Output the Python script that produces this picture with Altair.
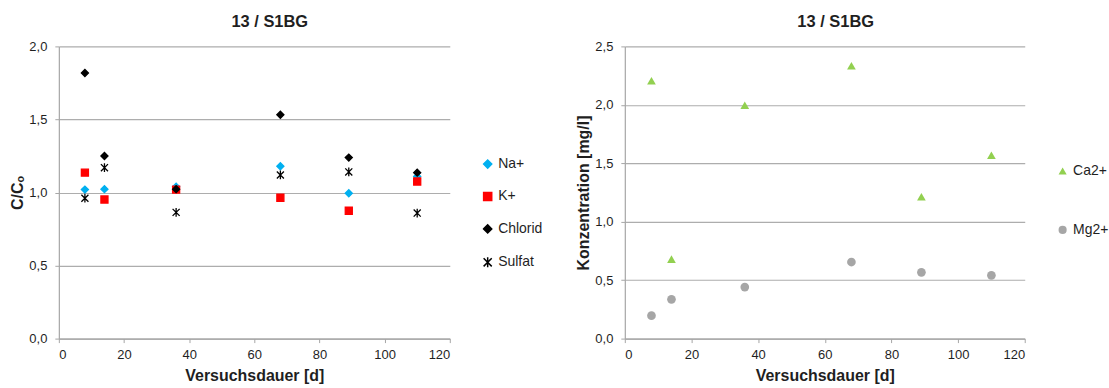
import altair as alt
import pandas as pd

FONT = "Liberation Sans"
TEXT = "#1F1F1F"

# sampling days
days = [8, 14, 36, 68, 89, 110]

# left panel: relative concentration C/Co
na = [1.02, 1.023, 1.04, 1.18, 0.995, 1.11]
k = [1.136, 0.952, 1.02, 0.964, 0.875, 1.075]
chlorid = [1.818, 1.25, 1.023, 1.532, 1.239, 1.136]
sulfat = [0.961, 1.17, 0.864, 1.12, 1.141, 0.859]
left_series = ["Na+", "K+", "Chlorid", "Sulfat"]
left_colors = ["#00B0F0", "#FF0000", "#000000", "#000000"]
star = "M-1,-1L1,1M-1,1L1,-1M0,-1.25L0,1.25"
left_shapes = ["diamond", "square", "diamond", star]

# right panel: concentration in mg/l
ca = [2.207, 0.68, 1.996, 2.335, 1.213, 1.569]
mg = [0.196, 0.336, 0.441, 0.655, 0.567, 0.541]
right_series = ["Ca2+", "Mg2+"]
right_colors = ["#92D050", "#A6A6A6"]
right_shapes = ["triangle-up", "circle"]

x_ticks = [0, 20, 40, 60, 80, 100, 120]

left_df = pd.concat(
    [pd.DataFrame({"d": days, "v": vals, "s": name})
     for name, vals in zip(left_series, [na, k, chlorid, sulfat])],
    ignore_index=True,
)
right_df = pd.concat(
    [pd.DataFrame({"d": days, "v": vals, "s": name})
     for name, vals in zip(right_series, [ca, mg])],
    ignore_index=True,
)

comma = "replace(format(datum.value, '.1f'), '.', ',')"


def x_axis():
    return alt.X(
        "d:Q",
        title="Versuchsdauer [d]",
        scale=alt.Scale(domain=[0, 120], nice=False, zero=True),
        axis=alt.Axis(values=x_ticks, grid=False, tickSize=4, labelPadding=6,
                      titlePadding=6),
    )


def left_legend():
    return alt.Legend(title=None, orient="none", legendX=423, legendY=111,
                      rowPadding=16.5)


def right_legend():
    return alt.Legend(title=None, orient="none", legendX=432, legendY=118,
                      rowPadding=45)


left = (
    alt.Chart(left_df)
    .mark_point(filled=True, opacity=1, strokeWidth=1.3)
    .encode(
        x=x_axis(),
        y=alt.Y(
            "v:Q",
            title="C/Cₒ",
            scale=alt.Scale(domain=[0, 2.0], nice=False),
            axis=alt.Axis(values=[0, 0.5, 1.0, 1.5, 2.0], labelExpr=comma,
                          tickSize=4, labelPadding=8, titlePadding=3),
        ),
        fill=alt.Fill("s:N", scale=alt.Scale(domain=left_series, range=left_colors),
                      legend=left_legend()),
        stroke=alt.Stroke("s:N", scale=alt.Scale(domain=left_series, range=left_colors),
                          legend=left_legend()),
        shape=alt.Shape("s:N", scale=alt.Scale(domain=left_series, range=left_shapes),
                        legend=left_legend()),
        size=alt.value(50),
    )
    .properties(width=392, height=293,
                title=alt.TitleParams("13 / S1BG", dx=15.5, offset=9.5))
)

right = (
    alt.Chart(right_df)
    .mark_point(filled=True, opacity=1)
    .encode(
        x=x_axis(),
        y=alt.Y(
            "v:Q",
            title="Konzentration [mg/l]",
            scale=alt.Scale(domain=[0, 2.5], nice=False),
            axis=alt.Axis(values=[0, 0.5, 1.0, 1.5, 2.0, 2.5], labelExpr=comma,
                          tickSize=4, labelPadding=8, titlePadding=3),
        ),
        color=alt.Color("s:N", scale=alt.Scale(domain=right_series, range=right_colors),
                        legend=right_legend()),
        shape=alt.Shape("s:N", scale=alt.Scale(domain=right_series, range=right_shapes),
                        legend=right_legend()),
        size=alt.value(76),
    )
    .properties(width=401, height=293,
                title=alt.TitleParams("13 / S1BG", dx=11, offset=9.5))
)

chart = (
    alt.hconcat(left, right, spacing=175.5, bounds="flush")
    .resolve_scale(color="independent", shape="independent", fill="independent",
                   stroke="independent")
    .resolve_legend(color="independent", shape="independent", fill="independent",
                    stroke="independent")
    .properties(padding={"left": 9, "top": 14, "right": 0, "bottom": 0},
                background="white")
    .configure_view(stroke=None)
    .configure_axis(
        labelFont=FONT, titleFont=FONT, labelFontSize=13, titleFontSize=16,
        labelColor=TEXT, titleColor=TEXT, titleFontWeight="bold",
        domainColor="#A6A6A6", tickColor="#A6A6A6", gridColor="#ADADAD",
        domainWidth=1.2, gridWidth=1.2,
    )
    .configure_axisX(grid=False)
    .configure_axisY(grid=True)
    .configure_legend(labelFont=FONT, labelFontSize=14, labelColor=TEXT,
                      symbolSize=66, labelOffset=3.5, padding=0)
    .configure_title(font=FONT, fontSize=16.5, fontWeight="bold", color=TEXT,
                     anchor="middle")
)

chart.save("out.html", embed_options={"renderer": "svg", "actions": False})
